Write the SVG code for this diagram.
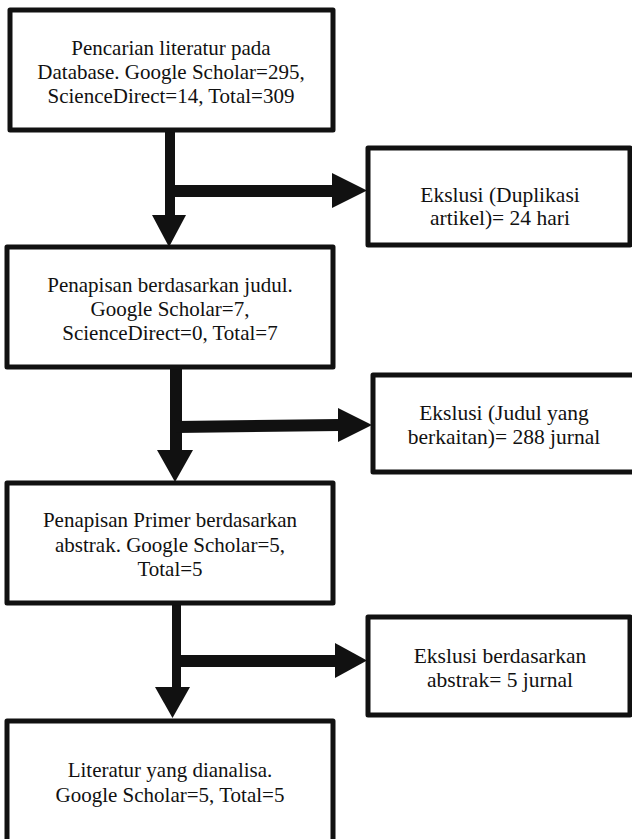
<svg xmlns="http://www.w3.org/2000/svg" width="632" height="839" viewBox="0 0 632 839">
<style>
.box{fill:#fff;stroke:#111;stroke-width:5;stroke-linejoin:round}
.t{font-family:'Liberation Serif','DejaVu Serif',serif;font-size:21px;fill:#111;text-anchor:middle}
.e{font-family:'Liberation Serif','DejaVu Serif',serif;font-size:21.5px;fill:#111;text-anchor:middle}
.c{fill:#111;stroke:none}
</style>
<rect width="632" height="839" fill="#fff"/>
<g id="connectors">
  <path class="c" d="M165,130 H175 V216 H165 Z"/>
  <polygon class="c" points="152,215 186,215 169,247"/>
  <path class="c" d="M170,185 H334 V197 H170 Z"/>
  <polygon class="c" points="332,173 332,208 367,190.5"/>

  <path class="c" d="M170,367 H182 V451 H170 Z"/>
  <polygon class="c" points="157,450 193,450 175,482"/>
  <path class="c" d="M176,421 L340,419 L340,431 L176,433 Z"/>
  <polygon class="c" points="338,408 338,442 372,425"/>

  <path class="c" d="M172,603 H181 V688 H172 Z"/>
  <polygon class="c" points="155,687 190,687 172.5,718"/>
  <path class="c" d="M176,655 H337 V667 H176 Z"/>
  <polygon class="c" points="335,643 335,678 367,660.5"/>
</g>
<g id="n1">
  <rect class="box" x="10" y="10" width="323" height="120"/>
  <text class="t" x="171" y="55">Pencarian literatur pada</text>
  <text class="t" x="171" y="79">Database. Google Scholar=295,</text>
  <text class="t" x="171" y="103">ScienceDirect=14, Total=309</text>
</g>
<g id="x1">
  <rect class="box" x="368" y="148" width="262" height="97"/>
  <text class="e" x="500" y="202">Ekslusi (Duplikasi</text>
  <text class="e" x="500" y="225">artikel)= 24 hari</text>
</g>
<g id="n2">
  <rect class="box" x="7" y="247" width="326" height="120"/>
  <text class="t" x="170" y="292">Penapisan berdasarkan judul.</text>
  <text class="t" x="170" y="316">Google Scholar=7,</text>
  <text class="t" x="170" y="340">ScienceDirect=0, Total=7</text>
</g>
<g id="x2">
  <rect class="box" x="373" y="375" width="270" height="97"/>
  <text class="e" x="504" y="420">Ekslusi (Judul yang</text>
  <text class="e" x="504" y="444">berkaitan)= 288 jurnal</text>
</g>
<g id="n3">
  <rect class="box" x="7" y="483" width="326" height="120"/>
  <text class="t" x="170" y="527">Penapisan Primer berdasarkan</text>
  <text class="t" x="170" y="552">abstrak. Google Scholar=5,</text>
  <text class="t" x="170" y="576">Total=5</text>
</g>
<g id="x3">
  <rect class="box" x="368" y="617" width="262" height="98"/>
  <text class="e" x="500" y="663">Ekslusi berdasarkan</text>
  <text class="e" x="500" y="687">abstrak= 5 jurnal</text>
</g>
<g id="n4">
  <rect class="box" x="7" y="721" width="326" height="130"/>
  <text class="t" x="170" y="777">Literatur yang dianalisa.</text>
  <text class="t" x="170" y="802">Google Scholar=5, Total=5</text>
</g>
</svg>
